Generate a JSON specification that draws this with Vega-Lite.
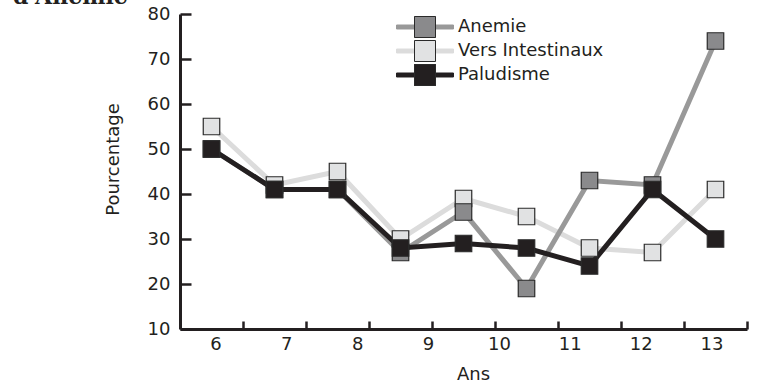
{
  "$schema": "https://vega.github.io/schema/vega-lite/v6.json",
  "width": 567,
  "height": 315,
  "autosize": {"type": "none"},
  "padding": {"left": 180, "top": 14, "right": 34, "bottom": 63},
  "background": "white",
  "title": {
    "text": "d'Anémie",
    "anchor": "start",
    "frame": "group",
    "font": "DejaVu Serif",
    "fontWeight": "bold",
    "fontSize": 22,
    "color": "#231f20",
    "dx": -167,
    "offset": -4
  },
  "config": {
    "view": {"stroke": null},
    "font": "DejaVu Sans",
    "axis": {
      "grid": false,
      "labelFont": "DejaVu Sans",
      "labelFontSize": 18,
      "labelColor": "#231f20",
      "titleFont": "DejaVu Sans",
      "titleFontSize": 18,
      "titleFontWeight": "normal",
      "titleColor": "#231f20",
      "domainColor": "#231f20",
      "tickColor": "#231f20"
    },
    "legend": {
      "labelFont": "DejaVu Sans",
      "labelFontSize": 18,
      "labelColor": "#231f20"
    }
  },
  "datasets": {
    "ages": [
      {"age": 6}, {"age": 7}, {"age": 8}, {"age": 9},
      {"age": 10}, {"age": 11}, {"age": 12}, {"age": 13}
    ],
    "taux": [
      {"idx": 1, "Anemie": 50, "Vers Intestinaux": 55, "Paludisme": 50},
      {"idx": 2, "Anemie": 41, "Vers Intestinaux": 42, "Paludisme": 41},
      {"idx": 3, "Anemie": 41, "Vers Intestinaux": 45, "Paludisme": 41},
      {"idx": 4, "Anemie": 27, "Vers Intestinaux": 30, "Paludisme": 28},
      {"idx": 5, "Anemie": 36, "Vers Intestinaux": 39, "Paludisme": 29},
      {"idx": 6, "Anemie": 19, "Vers Intestinaux": 35, "Paludisme": 28},
      {"idx": 7, "Anemie": 43, "Vers Intestinaux": 28, "Paludisme": 24},
      {"idx": 8, "Anemie": 42, "Vers Intestinaux": 27, "Paludisme": 41},
      {"idx": 9, "Anemie": 74, "Vers Intestinaux": 41, "Paludisme": 30}
    ]
  },
  "resolve": {"scale": {"x": "independent"}, "axis": {"x": "independent"}},
  "layer": [
    {
      "data": {"name": "ages"},
      "mark": {"type": "point", "opacity": 0},
      "encoding": {
        "x": {
          "field": "age",
          "type": "quantitative",
          "scale": {"domain": [5.5, 13.5], "nice": false, "zero": false},
          "axis": {
            "orient": "bottom",
            "values": [6, 7, 8, 9, 10, 11, 12, 13],
            "domain": false,
            "ticks": false,
            "labelPadding": 6,
            "title": "Ans",
            "titlePadding": 12,
            "titleX": 293
          }
        }
      }
    },
    {
      "data": {"name": "taux"},
      "layer": [
        {
          "transform": [
            {"fold": ["Vers Intestinaux", "Anemie", "Paludisme"], "as": ["serie", "pct"]}
          ],
          "mark": {"type": "line", "strokeWidth": 5},
          "encoding": {
            "x": {
              "field": "idx",
              "type": "quantitative",
              "scale": {"domain": [0.5, 9.5], "nice": false, "zero": false},
              "axis": {
                "orient": "bottom",
                "values": [1.5, 2.5, 3.5, 4.5, 5.5, 6.5, 7.5, 8.5, 9.5],
                "labels": false,
                "tickSize": -8,
                "tickWidth": 2.5,
                "domainWidth": 3,
                "title": null
              }
            },
            "y": {
              "field": "pct",
              "type": "quantitative",
              "scale": {"domain": [10, 80], "nice": false, "zero": false},
              "axis": {
                "values": [10, 20, 30, 40, 50, 60, 70, 80],
                "tickSize": -11,
                "tickWidth": 2.5,
                "domainWidth": 3,
                "labelPadding": 21,
                "title": "Pourcentage",
                "titlePadding": 25,
                "titleY": 145
              }
            },
            "color": {
              "field": "serie",
              "type": "nominal",
              "sort": ["Anemie", "Vers Intestinaux", "Paludisme"],
              "scale": {"range": ["#999999", "#dcdcdc", "#231f20"]},
              "legend": {
                "orient": "none",
                "legendX": 234,
                "legendY": 2,
                "title": null,
                "symbolType": "M-2.714,-0.19H-1V-1H1V-0.19H2.714V0.19H1V1H-1V0.19H-2.714Z",
                "symbolSize": 441,
                "symbolStrokeWidth": 1,
                "labelOffset": 22,
                "rowPadding": -3,
                "encode": {
                  "symbols": {"update": {"fill": {"scale": "color", "field": "value"}}}
                }
              }
            }
          }
        },
        {
          "transform": [
            {"fold": ["Vers Intestinaux", "Anemie", "Paludisme"], "as": ["serie_pt", "pct"]}
          ],
          "mark": {"type": "point", "shape": "square", "filled": true, "opacity": 1, "size": 272, "stroke": "#2a2a2a", "strokeWidth": 1.2},
          "encoding": {
            "x": {"field": "idx", "type": "quantitative"},
            "y": {"field": "pct", "type": "quantitative"},
            "fill": {
              "field": "serie_pt",
              "type": "nominal",
              "sort": ["Anemie", "Vers Intestinaux", "Paludisme"],
              "scale": {"range": ["#8a8a8c", "#e1e2e3", "#231f20"]},
              "legend": {
                "orient": "none",
                "legendX": 234,
                "legendY": 2,
                "title": null,
                "symbolType": "square",
                "symbolSize": 441,
                "symbolStrokeColor": "#2a2a2a",
                "symbolStrokeWidth": 1,
                "symbolOpacity": 1,
                "labelOffset": 22,
                "rowPadding": -3,
                "labelOpacity": 0
              }
            }
          }
        }
      ]
    }
  ]
}
